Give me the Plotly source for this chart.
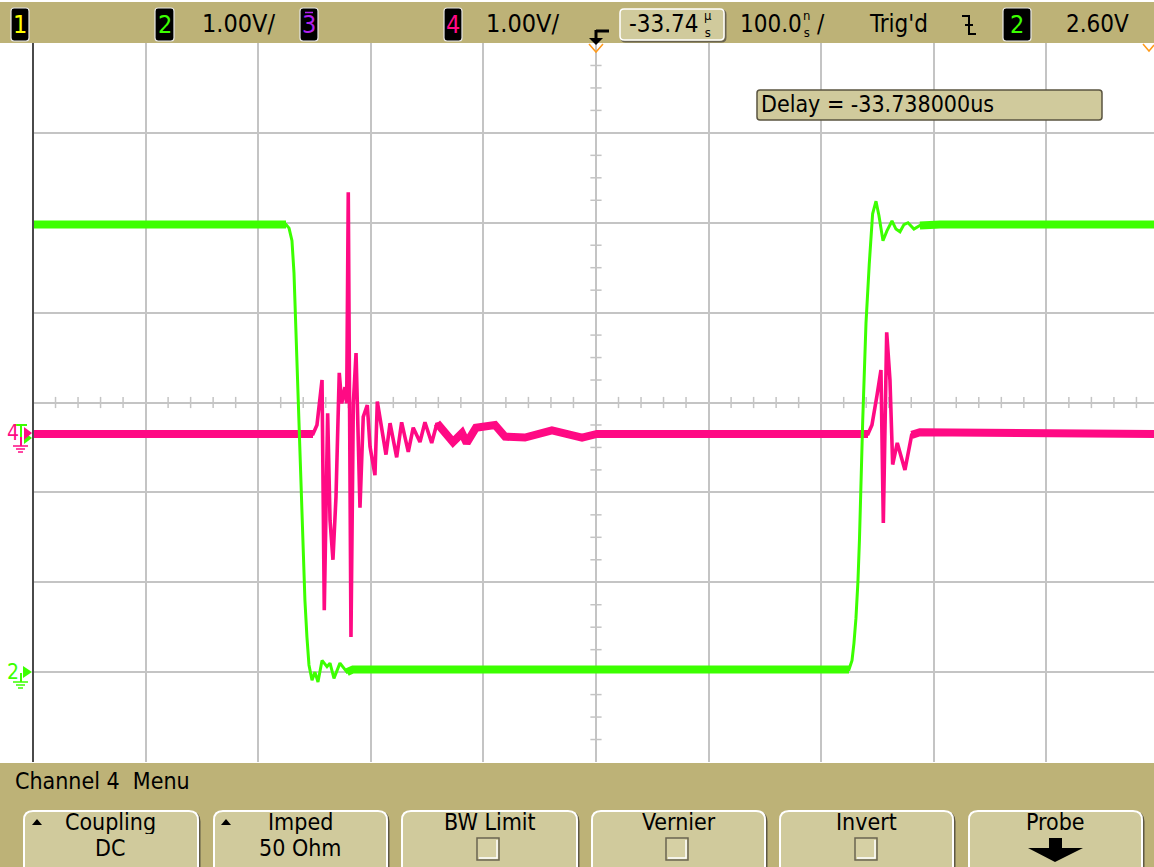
import numpy as np
import plotly.graph_objects as go

# Channel 2 (green), time in ns relative to screen centre, volts
ch2_time_ns = [-500.0, -275.3, -272.6, -270.0, -268.2, -266.4, -264.7, -262.9, -261.1, -259.4,
               -258.5, -256.7, -254.9, -252.2, -249.6, -246.9, -243.3, -238.9, -236.2, -232.7,
               -227.4, -221.1, -215.8, 224.7, 227.4, 229.1, 230.9, 232.7, 234.0, 236.9,
               239.8, 242.7, 245.7, 248.7, 251.3, 254.9, 258.4, 262.9, 266.4, 270.0,
               273.5, 277.1, 282.4, 287.7, 305.5, 495.6]
ch2_volts = [4.98, 4.98, 4.94, 4.80, 4.44, 3.80, 2.99, 2.44, 1.88, 1.13,
             0.80, 0.39, 0.08, -0.09, 0.00, -0.11, 0.13, 0.06, 0.10, -0.07,
             0.10, 0.00, 0.03, 0.03, 0.13, 0.32, 0.60, 1.02, 1.47, 2.80,
             3.88, 4.54, 5.10, 5.24, 5.08, 4.80, 4.91, 5.02, 4.93, 4.90,
             4.98, 5.00, 4.93, 4.97, 4.98, 4.98]

# Channel 4 (pink)
ch4_time_ns = [-500.0, -251.3, -247.8, -243.3, -241.3, -238.3, -236.2, -233.6, -230.9, -228.0,
               -225.8, -222.9, -221.4, -220.0, -217.6, -215.5, -213.1, -209.6, -206.7, -203.1,
               -200.7, -196.3, -194.2, -186.5, -182.9, -177.0, -172.6, -166.7, -162.3, -156.3,
               -151.9, -145.9, -141.2, -134.1, -127.0, -119.0, -114.8, -106.6, -89.7, -80.8,
               -63.1, -39.1, -12.4, 0.9, 241.6, 245.1, 249.6, 253.1, 255.2, 258.2,
               261.1, 263.5, 267.6, 274.4, 280.4, 287.7, 495.6]
ch4_volts = [0.00, 0.00, 0.10, 0.60, -1.96, 0.23, -0.96, -1.40, -0.70, 0.68,
             0.34, 0.52, 0.34, 2.69, -2.26, 0.34, 0.90, -0.82, 0.19, 0.32,
             -0.14, -0.46, 0.36, -0.23, 0.12, -0.26, 0.13, -0.20, 0.07, -0.09,
             0.13, -0.10, 0.12, 0.00, -0.09, 0.01, -0.10, 0.07, 0.10, -0.03,
             -0.04, 0.04, -0.04, 0.00, 0.00, 0.10, 0.43, 0.71, -0.99, 1.13,
             0.60, -0.34, -0.10, -0.40, -0.01, 0.02, 0.00]

top_labels = ["1.00V/", "1.00V/", "-33.74", "100.0", "Trig'd", "2.60V"]
delay_text = "Delay = -33.738000us"
menu_title = "Channel 4  Menu"
button_top = ["Coupling", "Imped", "BW Limit", "Vernier", "Invert", "Probe"]
button_bottom = ["DC", "50 Ohm", "", "", "", ""]

V_PER_DIV = 1.0
CH2_POS_DIV = -3.0
CH4_POS_DIV = -0.35
X_RANGE = [-500.0, 495.6]

# ---------------- geometry helpers ----------------
W, H = 1154, 867
L, R, T, B = 33, 0, 43, 105
PW = W - L - R
PH = H - T - B


def X(px):
    return (px - L) / PW


def Y(py):
    return (H - B - py) / PH


def path(pts, close=True):
    s = "M " + " L ".join(f"{X(a):.5f},{Y(b):.5f}" for a, b in pts)
    return s + (" Z" if close else "")


def rrect(x0, y0, x1, y1, r):
    p = [("M", x0 + r, y0), ("L", x1 - r, y0), ("Q", x1, y0, x1, y0 + r),
         ("L", x1, y1 - r), ("Q", x1, y1, x1 - r, y1), ("L", x0 + r, y1),
         ("Q", x0, y1, x0, y1 - r), ("L", x0, y0 + r), ("Q", x0, y0, x0 + r, y0)]
    out = []
    for seg in p:
        if seg[0] == "Q":
            out.append(f"Q {X(seg[1]):.5f},{Y(seg[2]):.5f} {X(seg[3]):.5f},{Y(seg[4]):.5f}")
        else:
            out.append(f"{seg[0]} {X(seg[1]):.5f},{Y(seg[2]):.5f}")
    return " ".join(out) + " Z"


TAN = "#BDB277"
BTN = "#D0CA9C"
GREEN = "#3CFF00"
PINK = "#FF0A84"
YELLOW = "#FFFF00"
PURPLE = "#B020F0"
ORANGE = "#FF9A1A"
GRID = "#C4C4C4"
FONT = "Liberation Sans Narrow, DejaVu Sans Condensed, Liberation Sans, sans-serif"

shapes = []
ann = []


def add_text(txt, x, y, size=25, color="black", xa="center", ya="middle", h=None):
    a = dict(text=txt, x=X(x), y=Y(y), xref="paper", yref="paper", showarrow=False,
             xanchor=xa, yanchor=ya, borderpad=0,
             font=dict(family=FONT, size=size, color=color))
    if h:
        a["height"] = h
    ann.append(a)


def add_path(pts, fill=None, line=None, width=1.5, close=True):
    shapes.append(dict(type="path", xref="paper", yref="paper", path=path(pts, close),
                       fillcolor=fill if fill else "rgba(0,0,0,0)",
                       line=dict(color=line if line else "rgba(0,0,0,0)", width=width)))


def add_rect(x0, y0, x1, y1, fill, line=None, width=1):
    shapes.append(dict(type="rect", xref="paper", yref="paper", x0=X(x0), x1=X(x1), y0=Y(y1), y1=Y(y0),
                       fillcolor=fill, line=dict(color=line if line else "rgba(0,0,0,0)", width=width)))


def add_rrect(x0, y0, x1, y1, r, fill, line, width=1.5, shadow=None):
    if shadow:
        shapes.append(dict(type="path", xref="paper", yref="paper", path=rrect(x0 + 1.5, y0 + 1.5, x1 + 1.5, y1 + 1.5, r),
                           fillcolor="rgba(0,0,0,0)", line=dict(color=shadow, width=2)))
    shapes.append(dict(type="path", xref="paper", yref="paper", path=rrect(x0, y0, x1, y1, r),
                       fillcolor=fill, line=dict(color=line, width=width)))


# ---------------- top status bar ----------------
add_rect(0, 2, W, 43, TAN)
for (bx0, bx1, digit, col) in [(11, 29, "1", YELLOW), (155, 174, "2", GREEN), (300, 318, "3", PURPLE),
                               (444, 462, "4", PINK), (1003, 1031, "2", GREEN)]:
    add_rrect(bx0, 8, bx1, 41, 3, "black", "#E8E8E8", 1.2)
    add_text(digit, (bx0 + bx1) / 2, 25, 25, col)
add_path([(305, 12.5), (313, 12.5)], line=PURPLE, width=1.5, close=False)
add_text(top_labels[0], 238, 24)
add_text(top_labels[1], 522, 24)
# delay reference icon
add_path([(596, 31), (609, 31)], line="black", width=3, close=False)
add_path([(596, 30), (596, 39)], line="black", width=3, close=False)
add_path([(589, 38), (603, 38), (596, 45)], fill="black")
# time-offset box
add_rrect(620, 9, 724, 40, 4, BTN, "white", 1.5, shadow="#6A6450")
add_text(top_labels[2], 664, 24, 24)
add_text("µ<br>s", 708, 24, 13)
add_text(top_labels[3], 771, 24, 24)
add_text("n<br>s", 806, 24, 13)
add_text("/", 821, 24, 24)
add_text(top_labels[4], 899, 24, 24)
# trigger slope icon
add_path([(962, 16), (969, 16), (969, 34), (976, 34)], line="black", width=2, close=False)
add_path([(965, 25), (973, 25)], line="black", width=2, close=False)
add_text(top_labels[5], 1097, 24, 24)

# orange markers
add_path([(589, 44), (596, 52), (603, 44)], line=ORANGE, width=1.5, close=False)
add_path([(1143, 44), (1149, 51), (1154, 45)], line=ORANGE, width=1.5, close=False)

# delay box
add_rrect(757, 90, 1102, 120, 3, BTN, "#5A5440", 1.5)
add_text(delay_text, 760, 104, 23, xa="left")

# ---------------- bottom menu ----------------
add_rect(0, 763, W, H + 2, TAN)
add_text(menu_title, 14, 781, 23, xa="left")
btn_x = [(24, 198), (214, 387), (402, 577), (592, 765), (780, 953), (969, 1142)]
for i, (x0, x1) in enumerate(btn_x):
    add_rrect(x0, 811, x1, 875, 9, BTN, "white", 2, shadow="#5E5844")
    cx = (x0 + x1) / 2
    add_text(button_top[i], cx, 822, 23, h=24)
    if button_bottom[i]:
        add_text(button_bottom[i], cx - 1, 848, 23, h=24)
add_path([(32, 825), (42, 825), (37, 819)], fill="black")
add_path([(221, 825), (231, 825), (226, 819)], fill="black")
for cx in [488, 677, 866]:
    add_rect(cx - 11, 838, cx + 11, 860, "#D6D0A4", "#6A6450", 1.5)
    add_path([(cx - 9, 858), (cx + 9, 858), (cx + 9, 840)], line="white", width=1.5, close=False)
# probe arrow
add_path([(1049, 838), (1062, 838), (1062, 848), (1083, 848), (1055, 862), (1028, 848), (1049, 848)], fill="black")

# ---------------- left channel markers ----------------
add_text("4", 13, 433, 21, PINK)
add_path([(15, 425), (27, 425)], line=GREEN, width=2, close=False)
add_path([(21, 425), (21, 437)], line=GREEN, width=2, close=False)
add_path([(24, 432), (32, 438), (24, 444)], fill=GREEN)
add_path([(24, 427), (32, 433), (24, 440)], fill=PINK)
add_path([(21, 437), (21, 446)], line=PINK, width=2, close=False)
add_path([(13, 446), (28, 446)], line=PINK, width=1.5, close=False)
add_path([(16, 449), (25, 449)], line=PINK, width=1.5, close=False)
add_path([(18, 452), (23, 452)], line=PINK, width=1.5, close=False)

add_text("2", 13, 672, 21, GREEN)
add_path([(23, 666), (32, 672), (23, 678)], fill=GREEN)
add_path([(21, 673), (21, 682)], line=GREEN, width=2, close=False)
add_path([(13, 682), (28, 682)], line=GREEN, width=1.5, close=False)
add_path([(16, 685), (25, 685)], line=GREEN, width=1.5, close=False)
add_path([(18, 688), (23, 688)], line=GREEN, width=1.5, close=False)

# left graticule border
shapes.append(dict(type="line", xref="paper", yref="paper", x0=0, x1=0, y0=0, y1=1,
                   line=dict(color="#4A4A4A", width=2)))

# ---------------- figure ----------------
fig = go.Figure()

# graticule centre-line ticks
hx = [v for v in np.arange(-480, 496, 20) if abs(v % 100) > 1e-6]
vy = [v for v in np.arange(-3.75, 4.0, 0.25) if abs(v % 1) > 1e-6]
fig.add_trace(go.Scatter(x=hx, y=[0] * len(hx), mode="markers", hoverinfo="skip",
                         marker=dict(symbol="line-ns", size=8, line=dict(color=GRID, width=1.5))))
fig.add_trace(go.Scatter(x=[0] * len(vy), y=vy, mode="markers", hoverinfo="skip",
                         marker=dict(symbol="line-ew", size=8, line=dict(color=GRID, width=1.5))))

ch2_y = [v / V_PER_DIV + CH2_POS_DIV for v in ch2_volts]
ch4_y = [v / V_PER_DIV + CH4_POS_DIV for v in ch4_volts]


def band(tt, yy, segs):
    bx, by = [], []
    for a, b in segs:
        bx += list(tt[a:b + 1]) + [None]
        by += list(yy[a:b + 1]) + [None]
    return bx, by


# pink first, green on top
bx, by = band(ch4_time_ns, ch4_y, [(0, 1), (32, 44), (54, 56)])
fig.add_trace(go.Scatter(x=bx, y=by, mode="lines", line=dict(color=PINK, width=8), hoverinfo="skip"))
fig.add_trace(go.Scatter(x=ch4_time_ns, y=ch4_y, mode="lines", line=dict(color=PINK, width=3.6)))
bx, by = band(ch2_time_ns, ch2_y, [(0, 1), (21, 23), (43, 45)])
fig.add_trace(go.Scatter(x=bx, y=by, mode="lines", line=dict(color=GREEN, width=8), hoverinfo="skip"))
fig.add_trace(go.Scatter(x=ch2_time_ns, y=ch2_y, mode="lines", line=dict(color=GREEN, width=3)))

fig.update_layout(
    width=W, height=H, margin=dict(l=L, r=R, t=T, b=B, pad=0),
    paper_bgcolor="white", plot_bgcolor="white", showlegend=False,
    shapes=shapes, annotations=ann,
    xaxis=dict(range=X_RANGE, dtick=100, tick0=0, showgrid=True, gridcolor=GRID, gridwidth=2,
               zeroline=False, showticklabels=False, ticks="", showline=False, fixedrange=True),
    yaxis=dict(range=[-4, 4], dtick=1, tick0=0, showgrid=True, gridcolor=GRID, gridwidth=2,
               zeroline=False, showticklabels=False, ticks="", showline=False, fixedrange=True),
)
fig.write_html("out.html", config={"displayModeBar": False},
               post_script="document.body.style.margin='0';document.body.style.overflow='hidden';")
